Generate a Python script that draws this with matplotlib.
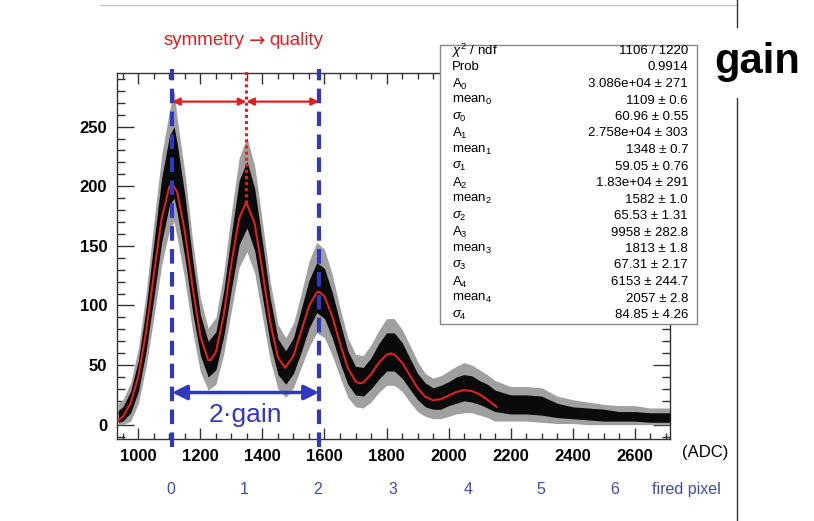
import matplotlib
matplotlib.use("Agg")
import matplotlib.pyplot as plt
from matplotlib.lines import Line2D
from matplotlib.patches import Rectangle
from matplotlib.ticker import MultipleLocator

plt.rcParams["font.family"] = ["Liberation Sans", "DejaVu Sans"]
plt.rcParams["mathtext.fontset"] = "custom"
plt.rcParams["mathtext.rm"] = "Liberation Sans"
plt.rcParams["mathtext.it"] = "Liberation Sans:italic"

# ADC spectrum (black histogram band)
hist_x = [935, 950, 975, 1000, 1025, 1050, 1075, 1100, 1115, 1125,
          1150, 1175, 1200, 1225, 1250, 1275, 1300, 1325, 1350, 1375,
          1400, 1425, 1450, 1475, 1500, 1525, 1550, 1575, 1600, 1625,
          1650, 1675, 1700, 1725, 1750, 1775, 1800, 1825, 1850, 1875,
          1900, 1925, 1950, 1975, 2000, 2025, 2050, 2075, 2100, 2125,
          2150, 2200, 2250, 2300, 2350, 2400, 2450, 2500, 2550, 2600,
          2650, 2700, 2714]
core_lo = [2, 3, 10, 28, 62, 107, 153, 184, 190, 178,
           140, 94, 58, 40, 46, 74, 114, 151, 165, 146,
           107, 68, 42, 34, 43, 61, 81, 94, 89, 73,
           52, 34, 25, 24, 30, 38, 45, 45, 39, 30,
           21, 15, 13, 13, 16, 18, 20, 19, 17, 14,
           11, 9, 9, 8, 6, 5, 4, 3, 3, 3,
           2, 2, 2]
core_hi = [12, 15, 28, 54, 98, 153, 207, 242, 250, 236,
           192, 138, 92, 70, 78, 112, 160, 205, 221, 198,
           153, 106, 72, 62, 73, 97, 121, 136, 131, 111,
           86, 62, 49, 48, 56, 68, 77, 77, 69, 56,
           43, 35, 31, 33, 36, 40, 42, 41, 37, 34,
           29, 25, 25, 24, 18, 15, 14, 13, 11, 11,
           10, 10, 10]
spike_lo = [0, 0, 3, 18, 49, 90, 134, 163, 170, 157,
            121, 78, 44, 29, 34, 59, 96, 132, 145, 127,
            90, 54, 30, 23, 31, 48, 65, 77, 73, 58,
            40, 23, 15, 14, 19, 27, 33, 33, 28, 19,
            11, 7, 5, 5, 7, 9, 10, 10, 8, 6,
            3, 3, 3, 2, 1, 1, 0, 0, 0, 0,
            0, 0, 0]
spike_hi = [18, 21, 35, 64, 111, 170, 226, 263, 280, 257,
            211, 154, 106, 81, 90, 127, 178, 224, 241, 217,
            170, 120, 84, 73, 85, 110, 137, 153, 147, 126,
            98, 73, 59, 58, 67, 79, 89, 89, 80, 67,
            53, 43, 39, 41, 45, 49, 52, 50, 46, 42,
            37, 32, 32, 31, 24, 21, 19, 17, 16, 16,
            14, 14, 14]

# fit curve (red)
fit_x = [935, 950, 975, 1000, 1025, 1050, 1075, 1100, 1109, 1125,
         1150, 1175, 1200, 1225, 1232, 1250, 1275, 1300, 1325, 1348,
         1375, 1400, 1425, 1450, 1473, 1500, 1525, 1550, 1575, 1582,
         1600, 1625, 1650, 1675, 1700, 1713, 1725, 1750, 1775, 1800,
         1813, 1825, 1850, 1875, 1900, 1925, 1950, 1975, 2000, 2025,
         2050, 2075, 2100, 2125, 2150, 2155]
fit_y = [3.4, 6.7, 18.0, 40.8, 78.2, 126.4, 172.9, 199.8, 202.0, 195.3,
         161.8, 114.9, 74.3, 54.3, 53.9, 60.9, 91.7, 135.4, 173.2, 186.6,
         168.6, 128.8, 85.9, 56.6, 47.7, 57.7, 78.4, 99.4, 111.0, 111.7,
         107.7, 91.0, 68.2, 47.9, 36.4, 34.7, 35.4, 42.3, 51.9, 58.7,
         59.7, 58.9, 52.2, 41.5, 30.8, 23.4, 20.5, 21.4, 24.3, 27.4,
         29.0, 28.3, 25.5, 21.0, 15.9, 14.9]

peak_means = [1109, 1348, 1582]
pixel_labels = ["0", "1", "2", "3", "4", "5", "6"]
pixel_x = [1103, 1340, 1579, 1821, 2063, 2297, 2537]

stat_names = [r"$\chi^2$ / ndf", "Prob",
              r"$\mathrm{A}_0$", r"$\mathrm{mean}_0$", r"$\sigma_0$",
              r"$\mathrm{A}_1$", r"$\mathrm{mean}_1$", r"$\sigma_1$",
              r"$\mathrm{A}_2$", r"$\mathrm{mean}_2$", r"$\sigma_2$",
              r"$\mathrm{A}_3$", r"$\mathrm{mean}_3$", r"$\sigma_3$",
              r"$\mathrm{A}_4$", r"$\mathrm{mean}_4$", r"$\sigma_4$"]
stat_values = ["1106 / 1220", "0.9914",
               "3.086e+04 ± 271", "1109 ± 0.6", "60.96 ± 0.55",
               "2.758e+04 ± 303", "1348 ± 0.7", "59.05 ± 0.76",
               "1.83e+04 ± 291", "1582 ± 1.0", "65.53 ± 1.31",
               "9958 ± 282.8", "1813 ± 1.8", "67.31 ± 2.17",
               "6153 ± 244.7", "2057 ± 2.8", "84.85 ± 4.26"]

W, H = 814, 521
fig = plt.figure(figsize=(W / 100, H / 100), dpi=100)
ax = fig.add_axes([117 / W, 1 - 439 / H, (670 - 117) / W, (439 - 73) / H])

red = "#e02020"
blue = "#3038c0"

ax.fill_between(hist_x, spike_lo, spike_hi, color="#a0a0a0", lw=0, zorder=2)
ax.fill_between(hist_x, core_lo, core_hi, color="#0a0a0a", lw=0, zorder=3)
ax.plot(fit_x, fit_y, color=red, lw=1.5, zorder=4)

ax.set_xlim(931, 2714)
ax.set_ylim(-12, 295)

# peak positions
for m in [peak_means[0], peak_means[2]]:
    ax.plot([m, m], [-19, 298], color=blue, lw=3, dashes=(3.5, 2),
            clip_on=False, zorder=6)
ax.plot([peak_means[1]] * 2, [186, 298], color=red, lw=2.2, dashes=(1, 1),
        clip_on=False, zorder=6)

arr_red = dict(arrowstyle="<|-|>", color=red, lw=1.6, mutation_scale=11,
               shrinkA=0, shrinkB=0)
ax.annotate("", xy=(peak_means[0], 271), xytext=(peak_means[1], 271),
            arrowprops=arr_red, zorder=7)
ax.annotate("", xy=(peak_means[1], 271), xytext=(peak_means[2], 271),
            arrowprops=arr_red, zorder=7)
ax.annotate("", xy=(peak_means[0], 27), xytext=(peak_means[2], 27),
            arrowprops=dict(arrowstyle="<|-|>", color=blue, lw=2.5,
                            mutation_scale=22, shrinkA=0, shrinkB=0),
            zorder=7)
ax.text((peak_means[0] + peak_means[2]) / 2, 8.5, "2·gain", color=blue,
        fontsize=19, ha="center", va="center", zorder=7)

# title "symmetry -> quality" (arrow taken from DejaVu, it is bigger)
ax.text(1342, 322, "symmetry", color=red, fontsize=13.5,
        ha="right", va="center")
ax.text(1382, 322, "→", color=red, fontsize=14, family=["DejaVu Sans"],
        ha="center", va="center")
ax.text(1422, 322, "quality", color=red, fontsize=13.5,
        ha="left", va="center")

# axis styling
ax.xaxis.set_major_locator(MultipleLocator(200))
ax.xaxis.set_minor_locator(MultipleLocator(50))
ax.yaxis.set_major_locator(MultipleLocator(50))
ax.yaxis.set_minor_locator(MultipleLocator(10))
ax.tick_params(axis="x", which="major", direction="in", top=True,
               length=8, width=1, color="#333333", pad=7)
ax.tick_params(axis="x", which="minor", direction="in", top=True,
               length=4, width=1, color="#333333")
ax.tick_params(axis="y", which="major", direction="in", right=True,
               length=12, width=1, color="#333333", pad=7)
ax.tick_params(axis="y", which="minor", direction="in", right=True,
               length=6, width=1, color="#333333")
for lbl in ax.get_xticklabels() + ax.get_yticklabels():
    lbl.set_fontweight("bold")
    lbl.set_fontsize(12)
for s in ax.spines.values():
    s.set_color("#333333")
    s.set_linewidth(1)

ax.text(2828, -23, "(ADC)", fontsize=12, ha="center", va="center")
for lab, px in zip(pixel_labels, pixel_x):
    ax.text(px, -54.5, lab, color="#3c4cb0", fontsize=11.5,
            ha="center", va="center")
ax.text(2766, -54.5, "fired pixel", color="#3c4cb0", fontsize=11.5,
        ha="center", va="center")

# fit statistics box
fig.patches.append(Rectangle((440 / W, 1 - 324 / H), 257 / W, 279 / H,
                             transform=fig.transFigure, facecolor="white",
                             edgecolor="#888888", lw=1, zorder=10))
for i, (n, v) in enumerate(zip(stat_names, stat_values)):
    yy = 1 - (51 + 16.5 * i) / H
    fig.text(452 / W, yy, n, fontsize=9.5, ha="left", va="center", zorder=11)
    fig.text(688 / W, yy, v, fontsize=9.5, ha="right", va="center", zorder=11)

fig.text(757 / W, 1 - 62 / H, "gain", fontsize=30, fontweight="bold",
         ha="center", va="center")

# slide frame lines
fig.add_artist(Line2D([100 / W, 737 / W], [1 - 5 / H, 1 - 5 / H],
                      color="#c8c8c8", lw=1, transform=fig.transFigure))
fig.add_artist(Line2D([737 / W, 737 / W], [1, 1 - 27 / H],
                      color="#333333", lw=1, transform=fig.transFigure))
fig.add_artist(Line2D([737 / W, 737 / W], [1 - 98 / H, 0],
                      color="#333333", lw=1, transform=fig.transFigure))

fig.savefig("out.png", dpi=100)
